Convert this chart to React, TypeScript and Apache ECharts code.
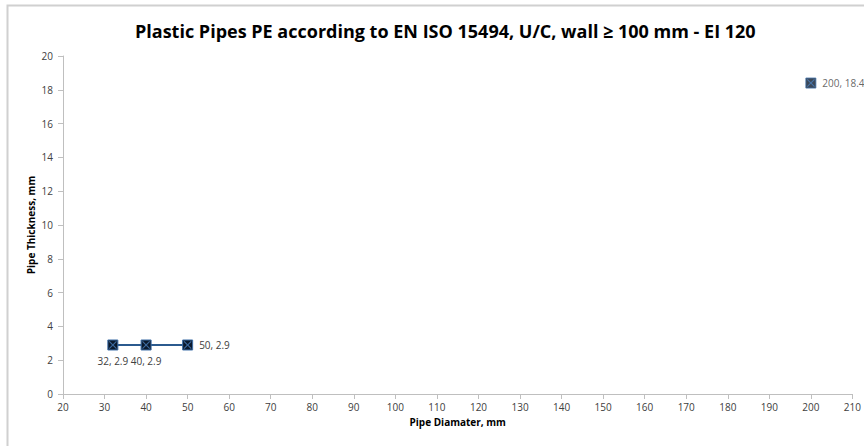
import React, { useEffect, useRef } from "react";
import * as echarts from "echarts";

const titleText = "Plastic Pipes PE according to EN ISO 15494, U/C, wall \u2265 100 mm - EI 120";
const xAxisName = "Pipe Diamater, mm";
const yAxisName = "Pipe Thickness, mm";
const smallPipes: [number, number][] = [
  [32, 2.9],
  [40, 2.9],
  [50, 2.9],
];
const largePipes: [number, number][] = [[200, 18.4]];
const labelPositions = ["bottom", "bottom", "right"];

const FONT = "'Open Sans', 'Noto Sans', sans-serif";
const X_SYMBOL =
  "path://M0,1 L1,0 L5,4 L9,0 L10,1 L6,5 L10,9 L9,10 L5,6 L1,10 L0,9 L4,5 Z";

export default function App() {
  const ref = useRef<HTMLDivElement>(null);
  useEffect(() => {
    if (!ref.current) return;
    const chart = echarts.init(ref.current, undefined, { renderer: "svg" });
    const labelFmt = (p: any) => `${p.value[0]}, ${p.value[1]}`;
    const baseLabel = {
      show: true,
      formatter: labelFmt,
      color: "#404040",
      fontSize: 10,
      fontFamily: FONT,
      distance: 6,
    };
    const squareStyle = { color: "#0B1A2E", borderColor: "#3F6FA8", borderWidth: 1 };
    const xStyle = { color: "#4A7EBB" };
    chart.setOption({
      animation: false,
      backgroundColor: "#ffffff",
      title: {
        text: titleText,
        left: 130,
        top: 17,
        textStyle: { fontFamily: FONT, fontSize: 18, fontWeight: "bold", color: "#000" },
      },
      graphic: [
        {
          type: "rect",
          shape: { x: 7.5, y: 5.5, width: 900, height: 500 },
          style: { fill: "none", stroke: "#D0D0D0", lineWidth: 2 },
          silent: true,
          z: -1,
        },
      ],
      grid: { left: 63, right: 11, top: 56, bottom: 52 },
      xAxis: {
        type: "value",
        min: 20,
        max: 210,
        interval: 10,
        name: xAxisName,
        nameLocation: "middle",
        nameGap: 20,
        nameTextStyle: { fontFamily: FONT, fontSize: 10, fontWeight: "bold", color: "#000" },
        axisLine: { show: true, lineStyle: { color: "#BFBFBF", width: 1 } },
        axisTick: { show: true, length: 5, lineStyle: { color: "#BFBFBF" } },
        axisLabel: { fontFamily: FONT, fontSize: 10, color: "#404040", margin: 8 },
        splitLine: { show: false },
      },
      yAxis: {
        type: "value",
        min: 0,
        max: 20,
        interval: 2,
        name: yAxisName,
        nameLocation: "middle",
        nameGap: 27,
        nameMoveOverlap: false,
        nameTextStyle: { fontFamily: FONT, fontSize: 10, fontWeight: "bold", color: "#000" },
        axisLine: { show: true, lineStyle: { color: "#BFBFBF", width: 1 } },
        axisTick: { show: true, length: 5, lineStyle: { color: "#BFBFBF" } },
        axisLabel: { fontFamily: FONT, fontSize: 10, color: "#404040", margin: 10 },
        splitLine: { show: false },
      },
      series: [
        {
          type: "line",
          data: smallPipes.map((d, i) => ({
            value: d,
            label: { ...baseLabel, position: labelPositions[i] },
          })),
          symbol: "rect",
          symbolSize: 10,
          lineStyle: { color: "#2B5A8E", width: 2 },
          itemStyle: squareStyle,
          z: 2,
        },
        {
          type: "scatter",
          data: smallPipes,
          symbol: X_SYMBOL,
          symbolSize: 8,
          itemStyle: xStyle,
          silent: true,
          z: 3,
        },
        {
          type: "scatter",
          data: largePipes,
          symbol: "rect",
          symbolSize: 10,
          itemStyle: squareStyle,
          label: { ...baseLabel, position: "right" },
          z: 2,
        },
        {
          type: "scatter",
          data: largePipes,
          symbol: X_SYMBOL,
          symbolSize: 8,
          itemStyle: xStyle,
          silent: true,
          z: 3,
        },
      ],
    });
    return () => chart.dispose();
  }, []);
  return (
    <div
      ref={ref}
      style={{ position: "fixed", left: 0, top: 0, width: 864, height: 446 }}
    />
  );
}
